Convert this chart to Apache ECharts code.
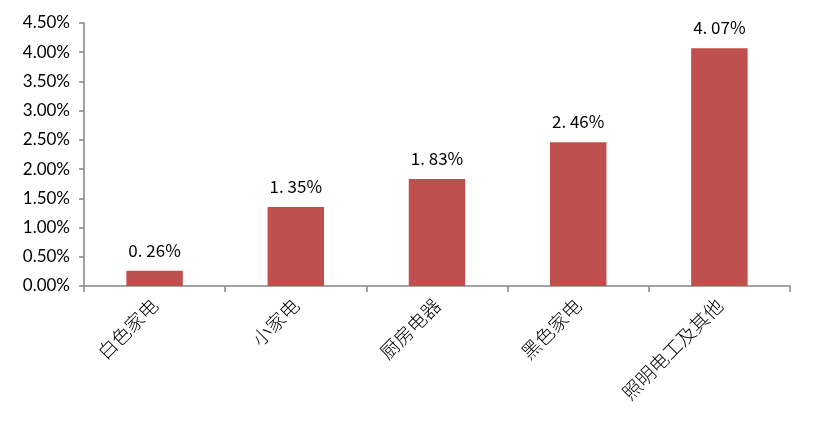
<!DOCTYPE html>
<html><head><meta charset="utf-8">
<script src="https://cdn.jsdelivr.net/npm/echarts@6/dist/echarts.min.js"></script>
<style>html,body{margin:0;padding:0;background:#fff}#c{width:813px;height:433px}</style>
</head><body><div id="c"></div>
<script>
const categories = ['白色家电','小家电','厨房电器','黑色家电','照明电工及其他'];
const values = [0.26, 1.35, 1.83, 2.46, 4.07];
const chart = echarts.init(document.getElementById('c'));
chart.setOption({
  animation:false,
  grid:{left:84,right:23,top:23,bottom:147},
  xAxis:{type:'category',data:categories,
    axisLine:{lineStyle:{color:'#868686',width:1.5}},
    axisTick:{show:true,length:6,alignWithLabel:false,lineStyle:{color:'#868686',width:1.5}},
    axisLabel:{rotate:45,interval:0,color:'#000',fontSize:19,fontWeight:300,fontFamily:'Noto Sans CJK SC',margin:16}
  },
  yAxis:{type:'value',min:0,max:4.5,interval:0.5,
    axisLine:{show:true,lineStyle:{color:'#868686',width:1.5}},
    axisTick:{show:true,length:5,lineStyle:{color:'#868686',width:1.5}},
    splitLine:{show:false},
    axisLabel:{color:'#000',fontSize:17,fontFamily:'Lato, Open Sans, sans-serif',margin:14,
      formatter:v=>v.toFixed(2)+'%'}
  },
  series:[{type:'bar',data:values,barWidth:'40%',
    itemStyle:{color:'#C0504D'},
    label:{show:true,position:'top',distance:12,color:'#000',fontSize:17,fontWeight:'normal',fontFamily:'Noto Sans CJK SC',
      formatter:p=>p.value.toFixed(2).replace('.','. ')+'%'}
  }]
});
</script></body></html>
